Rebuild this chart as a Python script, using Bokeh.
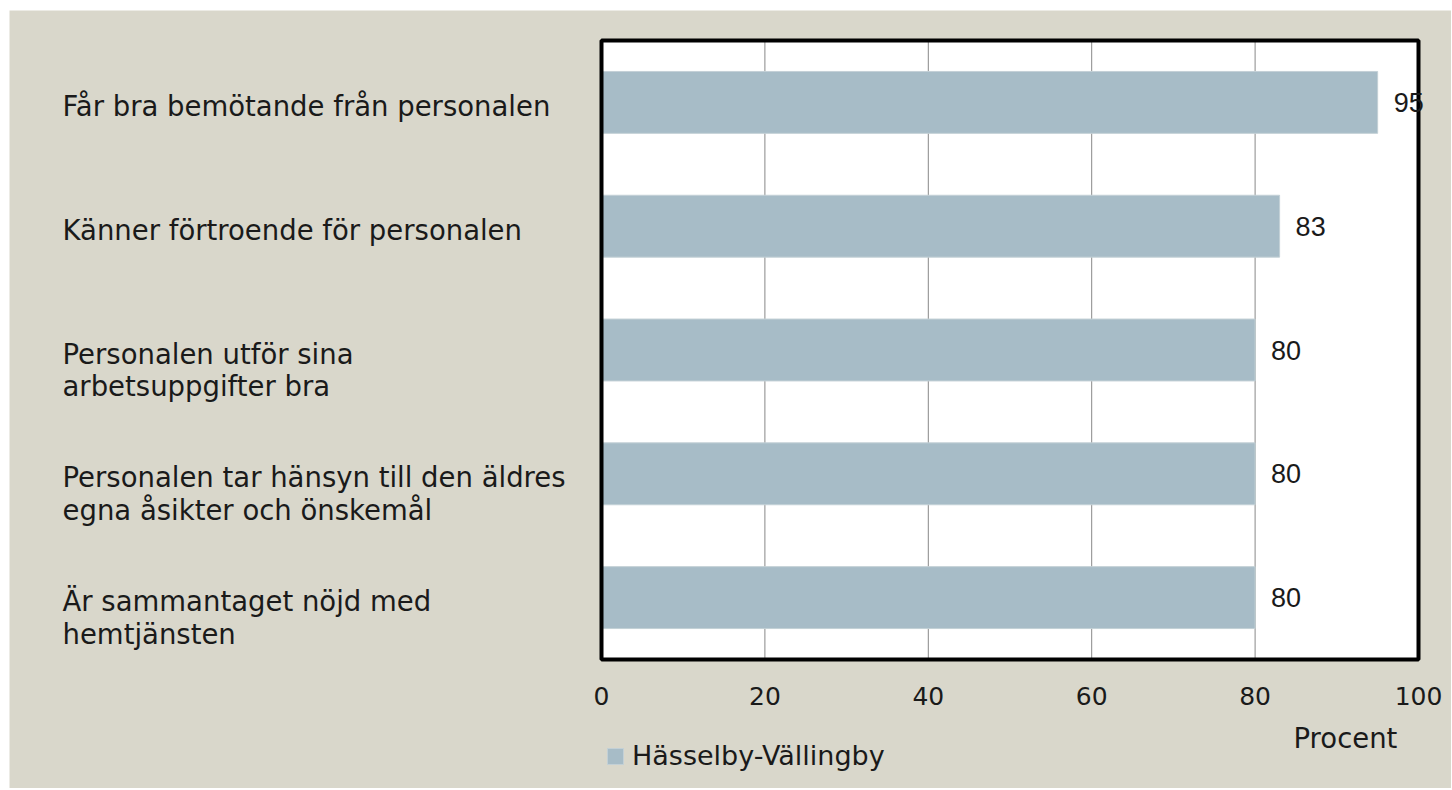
from bokeh.plotting import figure
from bokeh.models import Range1d, Legend, LegendItem, FixedTicker, ColumnDataSource, Label
from bokeh.core.properties import value
from bokeh.embed import file_html
from bokeh.resources import INLINE

categories = [
    "Får bra bemötande från personalen",
    "Känner förtroende för personalen",
    "Personalen utför sina\narbetsuppgifter bra",
    "Personalen tar hänsyn till den äldres\negna åsikter och önskemål",
    "Är sammantaget nöjd med\nhemtjänsten",
]
values = [95, 83, 80, 80, 80]
series_name = "Hässelby-Vällingby"
x_ticks = [0, 20, 40, 60, 80, 100]
grid_ticks = [20, 40, 60, 80]
x_label = "Procent"

BG = "#d9d7cb"
BAR = "#a7bcc7"
FONT = "DejaVu Sans"
TXT = "#1a1a1a"

# layout (pixels within the figure canvas)
W, H = 1442, 778
PX0 = 592          # pixel of value 0
PX_PER = 8.17      # pixels per percent
TOP, BOTTOM = 30, 649   # pixel rows of the plot area edges

n = len(categories)
ypos = [n - i - 0.5 for i in range(n)]
band_px = (BOTTOM - TOP) / n

p = figure(width=W, height=H, output_backend="svg", toolbar_location=None,
           x_range=Range1d(-PX0 / PX_PER, (W - PX0) / PX_PER),
           y_range=Range1d(-(H - BOTTOM) / band_px, n + TOP / band_px),
           min_border=0, min_border_left=0, min_border_right=0,
           min_border_top=0, min_border_bottom=0)
p.styles = {"margin-left": "9px", "margin-top": "10px"}
p.border_fill_color = BG
p.background_fill_color = BG
p.outline_line_color = None

# white plot area
p.quad(left=[x_ticks[0]], right=[x_ticks[-1]], bottom=[0], top=[n],
       fill_color="white", line_color=None)
# grid lines
p.segment(x0=grid_ticks, y0=[0] * len(grid_ticks), x1=grid_ticks, y1=[n] * len(grid_ticks),
          line_color="#888888", line_width=1)

src = ColumnDataSource(dict(y=ypos, v=values, lab=[str(v) for v in values]))
bars = p.hbar(y="y", right="v", left=0, height=0.5, source=src,
              fill_color=BAR, line_color="#c3d0d6", line_width=1)

# border of the plot area
p.quad(left=[x_ticks[0]], right=[x_ticks[-1]], bottom=[0], top=[n],
       fill_color=None, line_color="black", line_width=4)

p.yaxis.visible = False
p.xgrid.visible = False
p.ygrid.visible = False

xa = p.xaxis[0]
xa.fixed_location = 0
xa.ticker = FixedTicker(ticks=x_ticks)
xa.axis_line_color = None
xa.major_tick_line_color = None
xa.minor_tick_line_color = None
xa.major_tick_out = 0
xa.major_tick_in = 0
xa.major_label_standoff = 27
xa.major_label_text_font = FONT
xa.major_label_text_font_size = "25px"
xa.major_label_text_color = TXT

# category labels (left-aligned block)
lab_x = [(53 - PX0) / PX_PER] * n
lab_y = [yc + 12.5 / band_px for yc in ypos]
p.text(x=lab_x, y=lab_y, text=categories, text_font=value(FONT), text_font_size="27.5px",
       text_align="left", text_baseline="top", text_line_height=1.02, text_color=TXT)

# value labels
p.text(x="v", y="y", text="lab", source=src, x_offset=16, text_font=value("Liberation Sans"),
       text_font_size="27px", text_align="left", text_baseline="middle", text_color=TXT)

# axis title
p.add_layout(Label(x=(1284 - PX0) / PX_PER, y=-(727 - BOTTOM) / band_px, text=x_label,
                   text_font=FONT, text_font_size="27.5px", text_align="left",
                   text_baseline="middle", text_color=TXT))

legend = Legend(items=[LegendItem(label=series_name, renderers=[bars])],
                location=(PX0 + 4, 17), orientation="horizontal",
                glyph_width=20, glyph_height=20, label_standoff=7,
                padding=0, margin=0, border_line_color=None, background_fill_alpha=0,
                label_text_font=FONT, label_text_font_size="27px", label_text_color=TXT)
p.add_layout(legend, "center")

open("out.html", "w").write(file_html(p, INLINE))
